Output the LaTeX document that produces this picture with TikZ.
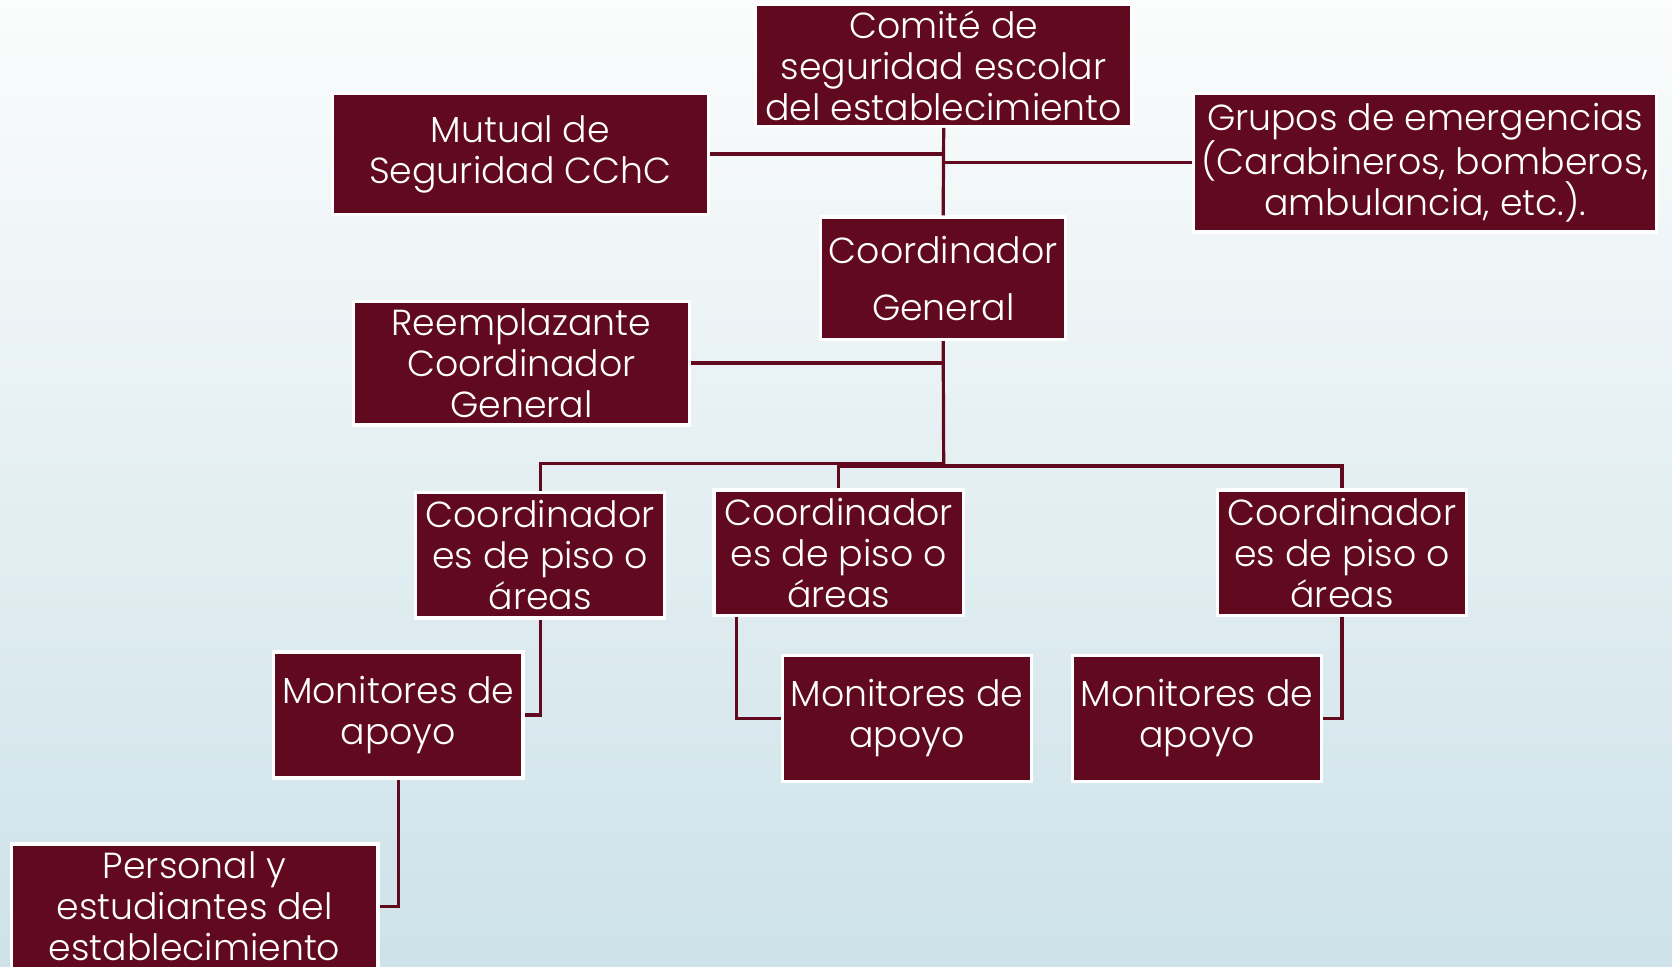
\documentclass[tikz,border=0pt]{standalone}
\usepackage{fontspec}
\IfFontExistsTF{Poppins Light}{\setmainfont{Poppins Light}}{\setmainfont{Poppins}}
\definecolor{maroon}{RGB}{96,9,31}
\definecolor{bgtop}{RGB}{251,252,252}
\definecolor{bgbot}{RGB}{205,226,233}
\tikzset{
  box/.style={fill=maroon, draw=white, line width=3pt, inner sep=0pt,
    align=center, text=white, font=\fontsize{34}{38.5}\selectfont},
  conn/.style={draw=maroon, line width=3pt},
}
\begin{document}
\begin{tikzpicture}[x=1pt,y=-1pt]
\useasboundingbox (0,0) rectangle (1568,906);
\shade[top color=bgtop, bottom color=bgbot] (0,0) rectangle (1568,906);

\node[box, minimum width=353pt, minimum height=114pt] (comite) at (885,61.5)
  {Comité de\\seguridad escolar\\del establecimiento};
\node[box, minimum width=353pt, minimum height=114pt] (mutual) at (488,144.5)
  {Mutual de\\Seguridad CChC};
\node[box, minimum width=434pt, minimum height=130pt] (grupos) at (1336.5,152.5)
  {Grupos de emergencias\\(Carabineros, bomberos,\\ambulancia, etc.).};
\node[box, minimum width=230pt, minimum height=115pt,
  font=\fontsize{34}{54}\selectfont] (cg) at (884.5,261)
  {Coordinador\\General};
\node[box, minimum width=315pt, minimum height=116pt] (reem) at (489,340.5)
  {Reemplazante\\Coordinador\\General};
\node[box, minimum width=234pt, minimum height=118pt] (cp1) at (506.5,520.5)
  {Coordinador\\es de piso o\\áreas};
\node[box, minimum width=234pt, minimum height=118pt] (cp2) at (786.5,518.5)
  {Coordinador\\es de piso o\\áreas};
\node[box, minimum width=234pt, minimum height=118pt] (cp3) at (1258.5,518.5)
  {Coordinador\\es de piso o\\áreas};
\node[box, minimum width=234pt, minimum height=118pt] (m1) at (373.5,670.5)
  {Monitores de\\apoyo};
\node[box, minimum width=234pt, minimum height=118pt] (m2) at (850.5,673.5)
  {Monitores de\\apoyo};
\node[box, minimum width=234pt, minimum height=118pt] (m3) at (1122.5,673.5)
  {Monitores de\\apoyo};
\node[box, minimum width=344pt, minimum height=117pt] (pers) at (182.5,850)
  {Personal y\\estudiantes del\\establecimiento};

\coordinate (bus) at (885,437);

\draw[conn] (comite.south) -- (cg.north);
\draw[conn] (mutual.east) -- (mutual.east -| comite.south);
\draw[conn] (grupos.west) -- (grupos.west -| comite.south);
\draw[conn] (cg.south) -- (bus);
\draw[conn] (reem.east) -- (reem.east -| cg.south);
\draw[conn] (cp1.north) |- ([yshift=2pt]bus);
\draw[conn] (cp2.north) |- (bus);
\draw[conn] (cp3.north) |- (bus);
\draw[conn] (cp1.south) |- (m1.east);
\draw[conn] ([xshift=23pt]cp2.south west) |- (m2.west);
\draw[conn] (cp3.south) |- (m3.east);
\draw[conn] (m1.south) |- (pers.east);
\end{tikzpicture}
\end{document}
